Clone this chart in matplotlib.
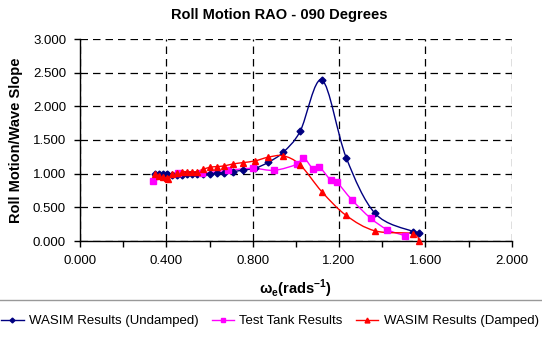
import numpy as np
import matplotlib.pyplot as plt
from matplotlib.path import Path
from matplotlib.patches import PathPatch
from matplotlib.lines import Line2D

plt.rcParams['font.family'] = ['Liberation Sans', 'DejaVu Sans']
plt.rcParams['font.size'] = 9.5

# WASIM frequencies (rad/s)
w_wasim = [0.348, 0.368, 0.386, 0.402, 0.410, 0.425, 0.448, 0.471, 0.494, 0.517,
           0.540, 0.571, 0.602, 0.633, 0.667, 0.710, 0.757, 0.811, 0.873, 0.942,
           1.020, 1.121, 1.233, 1.367, 1.543, 1.569]
rao_undamped = [0.99, 0.99, 0.99, 0.99, 0.98, 0.98, 0.98, 0.985, 0.99, 0.99,
                0.995, 1.00, 1.00, 1.01, 1.015, 1.03, 1.055, 1.08, 1.17, 1.32,
                1.63, 2.39, 1.24, 0.41, 0.14, 0.12]
rao_damped = [0.995, 0.966, 0.946, 0.93, 0.917, 0.995, 1.015, 1.03, 1.03, 1.03,
              1.03, 1.065, 1.095, 1.105, 1.115, 1.145, 1.165, 1.19, 1.245, 1.265,
              1.13, 0.73, 0.38, 0.15, 0.11, 0.0]

# test tank
w_tank = [0.340, 0.455, 0.564, 0.687, 0.800, 0.900, 1.004, 1.035, 1.080, 1.108,
          1.163, 1.191, 1.260, 1.346, 1.423, 1.504]
rao_tank = [0.89, 1.01, 1.005, 1.05, 1.08, 1.05, 1.14, 1.24, 1.07, 1.10,
            0.90, 0.87, 0.61, 0.34, 0.17, 0.08]


def smooth_path(xs, ys):
    # excel style smoothed line (catmull-rom bezier)
    p = np.column_stack([xs, ys])
    verts = [p[0]]
    codes = [Path.MOVETO]
    n = len(p)
    for i in range(n - 1):
        p0 = p[i - 1] if i > 0 else p[i]
        p3 = p[i + 2] if i + 2 < n else p[i + 1]
        c1 = p[i] + (p[i + 1] - p0) / 6.0
        c2 = p[i + 1] - (p3 - p[i]) / 6.0
        verts += [c1, c2, p[i + 1]]
        codes += [Path.CURVE4] * 3
    return Path(verts, codes)


fig = plt.figure(figsize=(5.42, 3.37), dpi=100)
ax = fig.add_axes([80/542, 1-241/337, (511.7-80)/542, (241-39)/337])

series = [(w_wasim, rao_undamped, '#000080', 'D', 3.5, 'WASIM Results (Undamped)'),
          (w_tank, rao_tank, '#FF00FF', 's', 4.5, 'Test Tank Results'),
          (w_wasim, rao_damped, '#FF0000', '^', 5, 'WASIM Results (Damped)')]
handles = []
for xs, ys, col, mk, ms, lab in series:
    ax.add_patch(PathPatch(smooth_path(xs, ys), fill=False, edgecolor=col,
                           lw=1.0, zorder=3, clip_on=False))
    ax.plot(xs, ys, ls='none', marker=mk, ms=ms, color=col, zorder=4,
            clip_on=False)
    handles.append(Line2D([], [], color=col, lw=1.0, marker=mk, ms=ms*0.7,
                          label=lab))

ax.set_xlim(0, 2.0)
ax.set_ylim(0, 3.0)
ax.xaxis.set_major_locator(plt.MultipleLocator(0.4))
ax.xaxis.set_minor_locator(plt.MultipleLocator(0.2))
ax.yaxis.set_major_locator(plt.MultipleLocator(0.5))
ax.xaxis.set_major_formatter(plt.FormatStrFormatter('%.3f'))
ax.yaxis.set_major_formatter(plt.FormatStrFormatter('%.3f'))
ax.tick_params(which='both', direction='out', length=4, width=1, pad=6)
ax.grid(color='black', ls=(0, (6, 4)), lw=0.9)
ax.set_axisbelow(True)
for s in ['top', 'right']:
    ax.spines[s].set_visible(False)
for s in ['left', 'bottom']:
    ax.spines[s].set_linewidth(1.0)

ax.set_xlabel(r'ω$_\mathregular{e}$(rads$^\mathregular{-1}$)', fontweight='bold',
              fontsize=10.5, labelpad=8)
ax.set_ylabel('Roll Motion/Wave Slope', fontweight='bold', fontsize=10.5,
              labelpad=7)
fig.text(279/542, 1-15/337, 'Roll Motion RAO - 090 Degrees', fontweight='bold',
         fontsize=10.5, ha='center', va='center')

leg = fig.legend(handles=handles, loc='center', bbox_to_anchor=(270/542, 1-321/337),
                 ncol=3, frameon=True, fancybox=False, edgecolor='#808080',
                 handlelength=1.7, handletextpad=0.4, columnspacing=1.0,
                 borderpad=1.1, borderaxespad=0)
leg.get_frame().set_linewidth(1.0)

fig.savefig('out.png', dpi=100)
